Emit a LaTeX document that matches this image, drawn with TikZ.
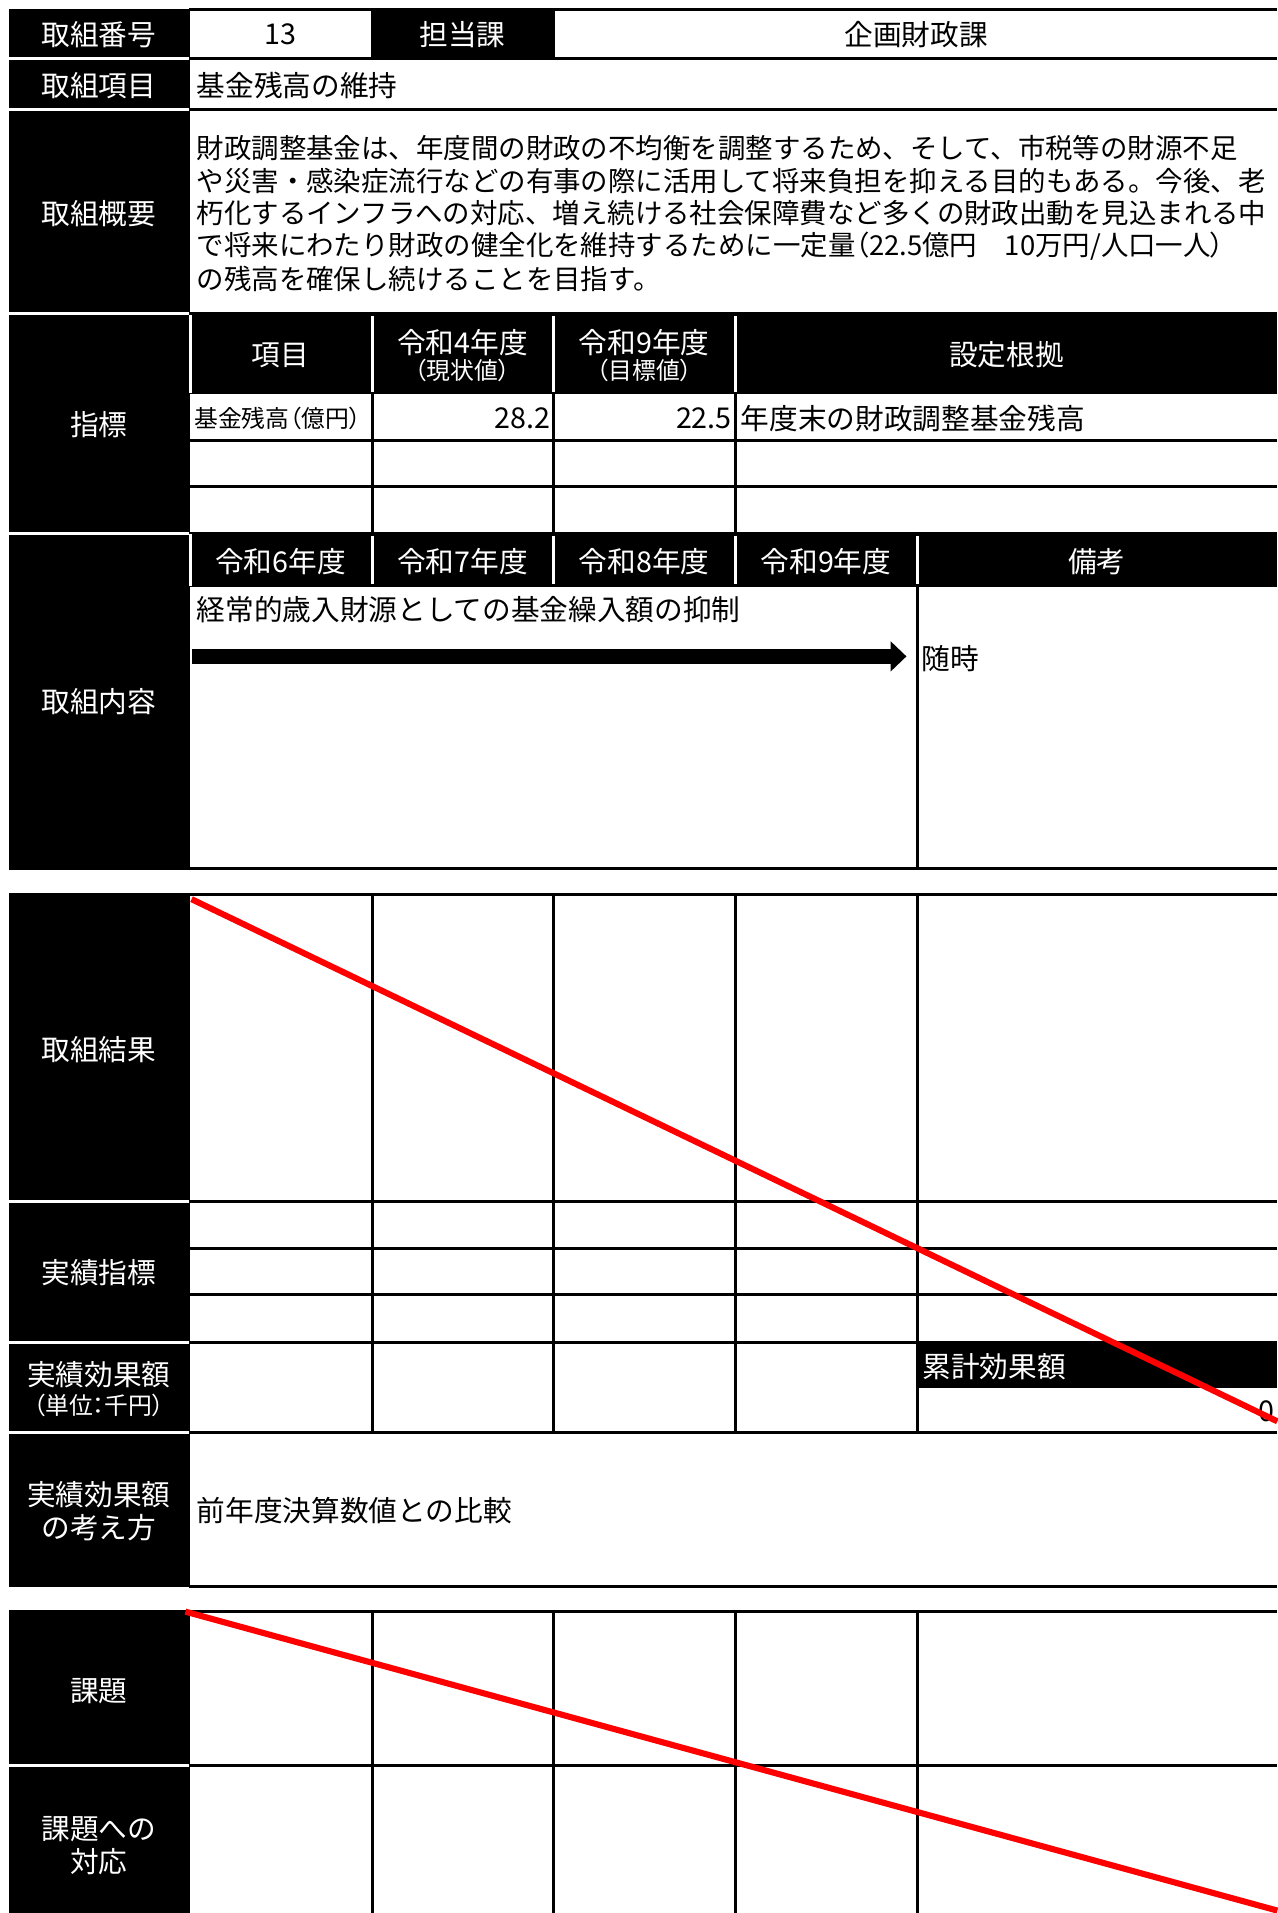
\documentclass[tikz,border=0pt]{standalone}
\usepackage{fontspec}
\setmainfont{Noto Sans CJK JP}
\newfontfamily\jpp{Noto Sans CJK JP}[RawFeature=+palt]
\usetikzlibrary{arrows.meta}
\newcommand{\fsL}{\fontsize{23.5}{28}\selectfont}
\newcommand{\fsB}{\fontsize{22.5}{27}\selectfont}
\newcommand{\fsS}{\jpp\fontsize{19.5}{22}\selectfont}
\begin{document}
\begin{tikzpicture}[x=1pt,y=-1pt,
  lbl/.style={text=white, font=\fsL, align=center, inner sep=0pt},
  hdr/.style={text=white, font=\fsL, align=center, inner sep=0pt},
  txt/.style={text=black, font=\fsB, anchor=west, inner sep=0pt},
  ctr/.style={text=black, font=\fsL, inner sep=0pt},
  gridl/.style={line width=2.5pt, black},
  wsep/.style={line width=2.5pt, white},
  blk/.style={fill=black},
  voidline/.style={line width=5pt, red},
  bigarrow/.style={line width=12pt, black, -{Triangle[length=13pt,width=24pt]}}
]
\useasboundingbox (0,0) rectangle (1047,1568);
\fill[white] (0,0) rectangle (1047,1568);

% ---------- black fills ----------
\fill[blk] (7,7) rectangle (156,713);
\fill[blk] (7,732) rectangle (156,1301);
\fill[blk] (7,1320) rectangle (156,1568);
\fill[blk] (304,7) rectangle (455,49);
\fill[blk] (155,256) rectangle (1047,323);
\fill[blk] (155,436) rectangle (1047,481);
\fill[blk] (752,1100) rectangle (1047,1138);

% ---------- section 1 grid ----------
\draw[gridl] (155,8) -- (1047,8);
\draw[gridl] (155,48) -- (1047,48);
\draw[gridl] (155,90) -- (1047,90);
\draw[gridl] (155,361) -- (1047,361);
\draw[gridl] (155,399) -- (1047,399);
\foreach \x in {305,454,603} \draw[gridl] (\x,323) -- (\x,437);
\draw[gridl] (752,481) -- (752,712);
\draw[gridl] (155,712) -- (1047,712);

% ---------- section 2 grid ----------
\draw[gridl] (155,733) -- (1047,733);
\foreach \x in {305,454,603,752} \draw[gridl] (\x,733) -- (\x,1174);
\foreach \y in {985,1023,1061,1100,1174,1300} \draw[gridl] (155,\y) -- (1047,\y);

% ---------- section 3 grid ----------
\draw[gridl] (155,1321) -- (1047,1321);
\foreach \x in {305,454,603,752} \draw[gridl] (\x,1321) -- (\x,1568);
\draw[gridl] (155,1447) -- (1047,1447);

% ---------- white separators ----------
\foreach \y in {48,90,257,437,985,1100,1174,1447} \draw[wsep] (7,\y) -- (155,\y);
\draw[wsep] (156,258) -- (156,322);
\draw[wsep] (156,438) -- (156,480);
\foreach \x in {305,454,603} \draw[wsep] (\x,259) -- (\x,321);
\foreach \x in {305,454,603,752} \draw[wsep] (\x,439) -- (\x,479);

% ---------- row 1-3 ----------
\node[lbl] (l1) at (81,28) {取組番号};
\node[ctr] (no) at (230,28) {13};
\node[hdr] (tan) at (379,28) {担当課};
\node[ctr] (ka) at (751,28) {企画財政課};
\node[lbl] (l2) at (81,70) {取組項目};
\node[txt,font=\fsL] (item) at (161,70) {基金残高の維持};
\node[lbl] (l3) at (81,175) {取組概要};
\node[txt] (ov1) at (161,121) {財政調整基金は、年度間の財政の不均衡を調整するため、そして、市税等の財源不足};
\node[txt] (ov2) at (161,148) {や災害・感染症流行などの有事の際に活用して将来負担を抑える目的もある。今後、老};
\node[txt] (ov3) at (161,175) {朽化するインフラへの対応、増え続ける社会保障費など多くの財政出動を見込まれる中};
\node[txt] (ov4) at (161,202) {で将来にわたり財政の健全化を維持するために一定量{\jpp（}22.5億円　10万円/人口一人{\jpp）}};
\node[txt] (ov5) at (161,229) {の残高を確保し続けることを目指す。};

% ---------- 指標 ----------
\node[lbl] (l4) at (81,348) {指標};
\node[hdr] (h1) at (230,291) {項目};
\node[hdr] (h2) at (379,281) {令和4年度};
\node[hdr,font=\fsS] (h2s) at (379,304) {（現状値）};
\node[hdr] (h3) at (528,281) {令和9年度};
\node[hdr,font=\fsS] (h3s) at (528,304) {（目標値）};
\node[hdr] (h4) at (825,291) {設定根拠};
\node[txt,font=\fsS] (d1) at (159,343) {基金残高（億円）};
\node[ctr,anchor=east] (d2) at (451,343) {28.2};
\node[ctr,anchor=east] (d3) at (600,343) {22.5};
\node[txt,font=\fsL] (d4) at (607,343) {年度末の財政調整基金残高};

% ---------- 取組内容 ----------
\node[lbl] (l5) at (81,575) {取組内容};
\node[hdr] (y6) at (230,460) {令和6年度};
\node[hdr] (y7) at (379,460) {令和7年度};
\node[hdr] (y8) at (528,460) {令和8年度};
\node[hdr] (y9) at (677,460) {令和9年度};
\node[hdr] (bk) at (899,460) {備考};
\node[txt,font=\fsL] (act) at (161,500) {経常的歳入財源としての基金繰入額の抑制};
\coordinate (aS) at (157,538);
\coordinate (aE) at (743,538);
\draw[bigarrow] (aS) -- (aE);
\node[txt,font=\fsL] (zuiji) at (755,540) {随時};

% ---------- section 2 ----------
\node[lbl] (l6) at (81,860) {取組結果};
\node[lbl] (l7) at (81,1043) {実績指標};
\node[lbl] (l8) at (81,1127) {実績効果額};
\node[lbl,font=\fsS] (l8s) at (81,1152) {（単位：千円）};
\node[text=white,font=\fsL,anchor=west,inner sep=0pt] (rk) at (756,1120) {累計効果額};
\node[ctr,anchor=east] (zero) at (1045,1157) {0};
\node[lbl] (l9) at (81,1225) {実績効果額};
\node[lbl] (l9b) at (81,1252) {の考え方};
\node[txt,font=\fsL] (kk) at (161,1238) {前年度決算数値との比較};

% ---------- section 3 ----------
\node[lbl] (l10) at (81,1386) {課題};
\node[lbl] (l11) at (81,1499) {課題への};
\node[lbl] (l11b) at (81,1526) {対応};

% ---------- red void lines ----------
\coordinate (r1s) at (157,737);
\coordinate (r1e) at (1047,1165);
\coordinate (r2s) at (152,1321);
\coordinate (r2e) at (1047,1566);
\draw[voidline] (r1s) -- (r1e);
\draw[voidline] (r2s) -- (r2e);
\end{tikzpicture}
\end{document}
